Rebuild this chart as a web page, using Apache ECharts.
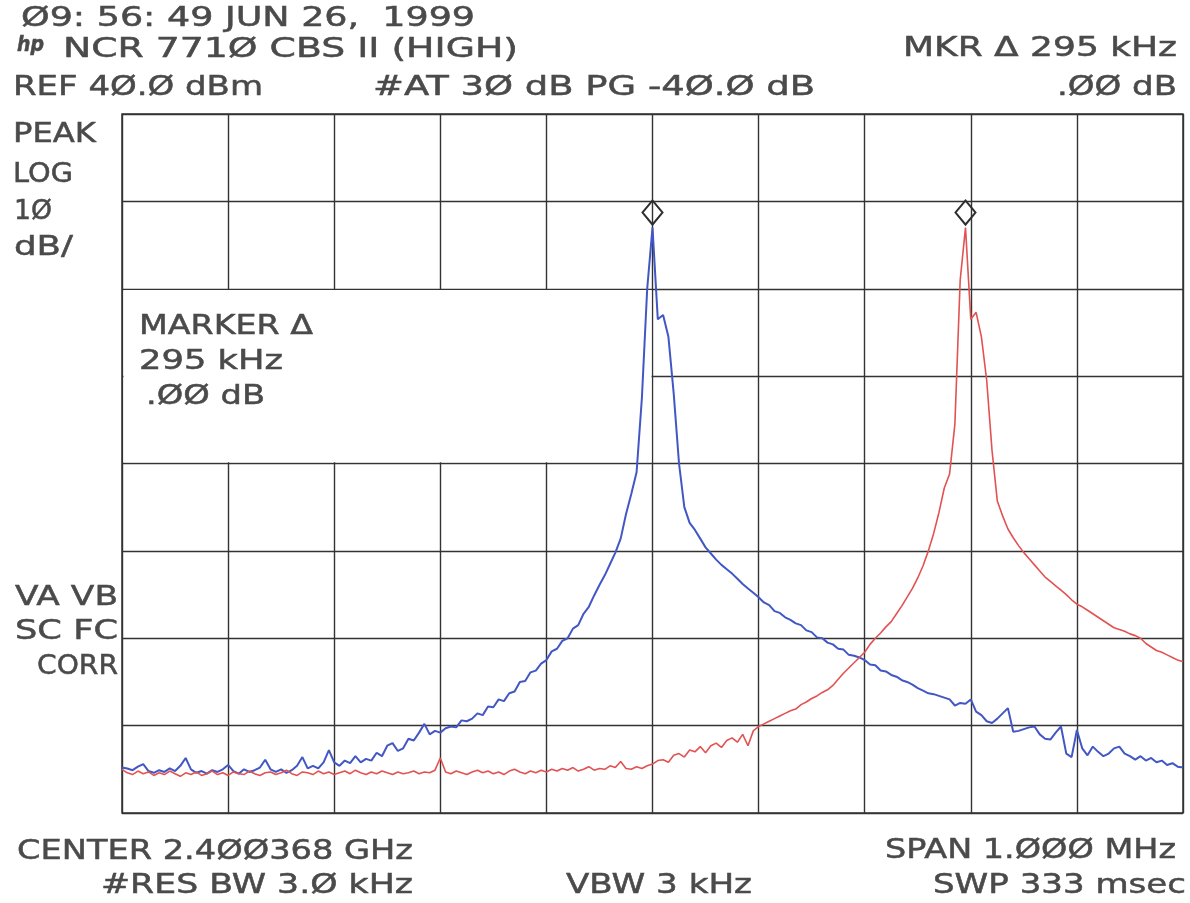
<!DOCTYPE html>
<html>
<head>
<meta charset="utf-8">
<title>NCR 7710 CBS II (HIGH)</title>
<script src="https://cdn.jsdelivr.net/npm/echarts@6.0.0/dist/echarts.min.js"></script>
<style>
  html, body { margin: 0; padding: 0; background: #fff; }
  #spectrum { width: 1190px; height: 903px; }
</style>
</head>
<body>
<div id="spectrum"></div>
<script>
// offset from center frequency, kHz (span 1 MHz, one sample every 5 kHz)
const freqStart = -500;
const freqStep = 5;

// blue trace, dBm, -500 .. +500 kHz
const blueLevel = [
  -34.8, -34.9, -35.1, -34.7, -34.4, -35.2, -35.4, -35.1, -35.3, -34.9,
  -35.2, -34.6, -33.7, -35.0, -35.4, -35.2, -35.5, -35.1, -35.3, -35.0,
  -34.5, -35.2, -35.5, -35.0, -35.3, -35.1, -34.8, -33.9, -35.0, -35.3,
  -35.0, -35.4, -35.1, -34.6, -33.6, -34.9, -34.6, -34.9, -34.2, -32.8,
  -34.2, -34.6, -34.0, -34.3, -33.5, -34.2, -33.8, -34.0, -33.1, -33.5,
  -32.3, -32.0, -32.9, -32.6, -31.5, -31.7, -30.8, -29.8, -31.0, -30.6,
  -30.8, -30.3, -30.1, -30.2, -29.4, -29.5, -29.2, -28.6, -28.8, -27.8,
  -27.9, -27.0, -27.2, -26.3, -26.1, -25.0, -24.9, -23.9, -23.7, -22.9,
  -22.5, -21.5, -21.2, -20.3, -20.0, -18.9, -18.5, -17.2, -16.4, -15.1,
  -13.9, -12.8, -11.5, -10.2, -8.6, -5.8, -3.5, -1.0, 7.5, 20.0,
  27.0, 16.5, 17.0, 14.5, 8.0, 0.0, -5.0, -6.8, -7.6, -8.6,
  -9.6, -10.3, -11.0, -11.6, -12.1, -12.6, -13.2, -13.8, -14.3, -14.8,
  -15.3, -15.9, -16.2, -16.9, -17.1, -17.6, -17.9, -18.3, -18.5, -19.1,
  -19.3, -19.9, -20.0, -20.5, -20.7, -21.2, -21.3, -21.9, -22.0, -22.2,
  -22.5, -23.0, -23.1, -23.7, -23.8, -24.2, -24.4, -24.8, -25.0, -25.3,
  -25.7, -26.0, -26.3, -26.4, -26.6, -26.8, -27.0, -27.7, -27.4, -27.5,
  -27.0, -28.4, -28.8, -29.5, -29.7, -29.2, -28.6, -28.0, -30.7, -30.6,
  -30.4, -30.2, -30.1, -31.0, -31.5, -31.6, -30.8, -30.1, -33.2, -33.6,
  -30.5, -32.6, -33.4, -32.4, -33.0, -33.5, -33.2, -32.6, -32.4, -33.2,
  -33.5, -33.9, -33.5, -34.0, -33.7, -34.2, -34.0, -34.5, -34.3, -34.7,
  -34.8
];

// red trace, dBm, -500 .. +500 kHz
const redLevel = [
  -35.0, -35.4, -35.6, -35.2, -35.5, -35.3, -35.7, -35.4, -35.6, -35.2,
  -35.5, -35.8, -35.4, -35.6, -35.3, -35.7, -35.5, -35.2, -35.6, -35.4,
  -35.7, -35.3, -35.5, -35.6, -35.2, -35.5, -35.7, -35.4, -35.3, -35.6,
  -35.4, -35.1, -35.5, -35.7, -35.3, -35.4, -35.6, -35.2, -35.5, -35.3,
  -35.6, -35.4, -35.2, -35.5, -35.1, -35.4, -35.6, -35.3, -35.5, -35.2,
  -35.4, -35.6, -35.3, -35.5, -35.4, -35.2, -35.5, -35.3, -35.4, -35.1,
  -33.7, -35.3, -35.5, -35.2, -35.4, -35.6, -35.3, -35.1, -35.4, -35.2,
  -35.5, -35.3, -35.6, -35.2, -35.0, -35.3, -35.5, -35.2, -35.4, -35.1,
  -35.3, -35.0, -35.2, -34.9, -35.1, -34.8, -35.2, -35.0, -34.7, -35.1,
  -34.9, -35.0, -34.6, -34.8, -34.1, -34.9, -35.0, -34.7, -34.9, -34.6,
  -34.4, -34.0, -33.9, -34.2, -33.4, -33.2, -33.6, -32.8, -33.0, -32.4,
  -33.1, -32.3, -32.0, -32.5, -31.7, -31.4, -31.9, -31.0, -32.3, -30.6,
  -30.1, -29.8, -29.5, -29.2, -28.9, -28.6, -28.3, -28.1, -27.6, -27.3,
  -26.9, -26.6, -26.2, -25.9, -25.4, -24.7, -24.0, -23.4, -22.8, -22.2,
  -21.6, -20.7, -20.0, -19.4, -18.7, -18.1, -17.2, -16.3, -15.3, -14.3,
  -13.1, -11.7, -10.0, -8.0, -5.6, -2.8, -1.2, 4.5, 21.0, 27.0,
  16.5, 17.3, 14.5, 9.5, 1.5, -4.3, -6.0, -7.5, -8.5, -9.4,
  -10.2, -10.9, -11.6, -12.3, -13.0, -13.5, -14.0, -14.5, -15.0, -15.6,
  -16.1, -16.4, -16.8, -17.2, -17.6, -18.0, -18.4, -18.8, -19.0, -19.2,
  -19.5, -19.7, -20.0, -20.6, -21.0, -21.4, -21.6, -21.9, -22.2, -22.5,
  -22.7
];

// REF 40 dBm, 10 dB/div, 8 divisions; 100 kHz/div
const refLevel = 40;
const dbPerDiv = 10;
const kHzPerDiv = 100;

// annotation text: [text, left x, right x, middle y]
const labels = [
  ["Ø9: 56: 49 JUN 26,  1999", 21, 475, 19],
  ["NCR 771Ø CBS II (HIGH)", 63, 518, 50],
  ["MKR Δ 295 kHz", 903, 1177, 49],
  ["REF 4Ø.Ø dBm", 13, 263, 88],
  ["#AT 3Ø dB PG -4Ø.Ø dB", 373, 815, 88],
  [".ØØ dB", 1057, 1177, 88],
  ["PEAK", 13, 96, 135],
  ["LOG", 13, 73, 175],
  ["1Ø", 14, 52, 212],
  ["dB/", 14, 73, 248],
  ["MARKER Δ", 139, 313, 327],
  ["295 kHz", 139, 283, 362],
  [".ØØ dB", 146, 265, 397],
  ["VA VB", 15, 118, 598],
  ["SC FC", 15, 118, 632],
  ["CORR", 37, 118, 667],
  ["CENTER 2.4ØØ368 GHz", 17, 413, 852],
  ["#RES BW 3.Ø kHz", 101, 413, 886],
  ["VBW 3 kHz", 566, 752, 886],
  ["SPAN 1.ØØØ MHz", 885, 1176, 851],
  ["SWP 333 msec", 933, 1186, 886]
];

const FONT = '27px "DejaVu Sans"';
const INK = "#4a4a4a";
const GRID_INK = "#333";

const freqs = blueLevel.map((v, i) => freqStart + i * freqStep);

// stretch each line of text to the width it has on the plot
const measure = document.createElement("canvas").getContext("2d");
function textItem(row) {
  measure.font = row[4] || FONT;
  const w = measure.measureText(row[0]).width;
  return {
    type: "text",
    x: row[1],
    y: row[3],
    scaleX: (row[2] - row[1]) / w,
    z: 10,
    style: {
      text: row[0],
      font: row[4] || FONT,
      fill: INK,
      stroke: INK,
      lineWidth: 0.5,
      textAlign: "left",
      textVerticalAlign: "middle",
      align: "left",
      verticalAlign: "middle"
    }
  };
}

const marker = {
  symbol: "diamond",
  symbolSize: [20, 24],
  symbolOffset: [0, -15],
  label: { show: false },
  itemStyle: { color: "rgba(255,255,255,0)", borderColor: "#2e2e2e", borderWidth: 2 },
  data: [{ type: "max" }]
};

const chart = echarts.init(document.getElementById("spectrum"));

chart.setOption({
  backgroundColor: "#fff",
  animation: false,
  grid: {
    left: 122,
    top: 114,
    width: 1061,
    height: 699,
    show: true,
    borderColor: GRID_INK,
    borderWidth: 1.5
  },
  xAxis: {
    type: "value",
    min: freqStart,
    max: -freqStart,
    interval: kHzPerDiv,
    axisLine: { show: false },
    axisTick: { show: false },
    axisLabel: { show: false },
    splitLine: { show: true, lineStyle: { color: GRID_INK, width: 1.4 } }
  },
  yAxis: {
    type: "value",
    min: refLevel - 8 * dbPerDiv,
    max: refLevel,
    interval: dbPerDiv,
    axisLine: { show: false },
    axisTick: { show: false },
    axisLabel: { show: false },
    splitLine: { show: true, lineStyle: { color: GRID_INK, width: 1.4 } }
  },
  series: [
    {
      name: "A",
      type: "line",
      showSymbol: false,
      z: 3,
      lineStyle: { color: "#4257c4", width: 2 },
      data: freqs.map((f, i) => [f, blueLevel[i]]),
      markPoint: marker
    },
    {
      name: "B",
      type: "line",
      showSymbol: false,
      z: 3,
      lineStyle: { color: "#e25252", width: 1.6 },
      data: freqs.map((f, i) => [f, redLevel[i]]),
      markPoint: marker
    }
  ]
});

// blank panel for the marker readout (grid lines hidden there)
const boxTopLeft = chart.convertToPixel({ gridIndex: 0 }, [freqStart, refLevel - 2 * dbPerDiv]);
const boxBottomRight = chart.convertToPixel({ gridIndex: 0 }, [0, refLevel - 4 * dbPerDiv]);

const elements = labels.map(textItem);
elements.push({
  type: "rect",
  z: 1,
  shape: {
    x: boxTopLeft[0] + 1.5,
    y: boxTopLeft[1] + 1.2,
    width: boxBottomRight[0] - boxTopLeft[0] - 2.5,
    height: boxBottomRight[1] - boxTopLeft[1] - 2.4
  },
  style: { fill: "#fff" }
});
// hp logo
elements.push(textItem(["hp", 17, 44, 45, 'italic bold 22px "DejaVu Sans"']));

chart.setOption({ graphic: { elements: elements } });
</script>
</body>
</html>
